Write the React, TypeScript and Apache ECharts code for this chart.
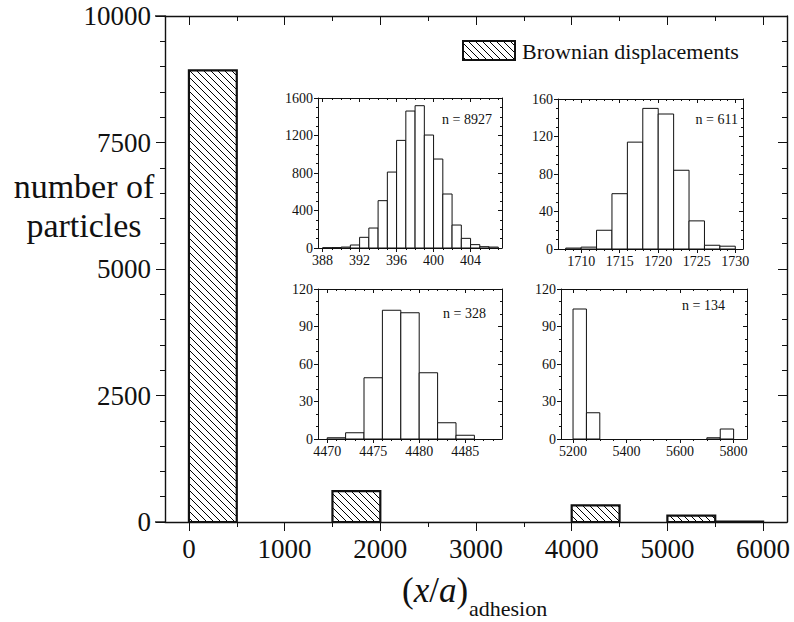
import React, { useEffect, useRef } from "react";
import * as echarts from "echarts";

// ---------- data ----------
const mainBinStarts = [0, 1500, 4000, 5000, 5500];
const mainBinEnds = [500, 2000, 4500, 5500, 6000];
const mainCounts = [8927, 611, 328, 125, 9];
const mainXTicks = [0, 1000, 2000, 3000, 4000, 5000, 6000];
const mainYTicks = [0, 2500, 5000, 7500, 10000];

const inset1Bins = [388, 389, 390, 391, 392, 393, 394, 395, 396, 397, 398, 399, 400, 401, 402, 403, 404, 405, 406];
const inset1Counts = [3, 4, 10, 32, 114, 213, 505, 810, 1148, 1461, 1518, 1205, 949, 576, 245, 103, 36, 14, 10];
const inset1Width = 1;
const inset1XTicks = [388, 392, 396, 400, 404];
const inset1YTicks = [0, 400, 800, 1200, 1600];
const inset1Label = "n = 8927";

const inset2Bins = [1708, 1710, 1712, 1714, 1716, 1718, 1720, 1722, 1724, 1726, 1728];
const inset2Counts = [1, 2, 20, 59, 114, 150, 144, 84, 30, 4, 3];
const inset2Width = 2;
const inset2XTicks = [1710, 1715, 1720, 1725, 1730];
const inset2YTicks = [0, 40, 80, 120, 160];
const inset2Label = "n = 611";

const inset3Bins = [4470, 4472, 4474, 4476, 4478, 4480, 4482, 4484];
const inset3Counts = [1, 5, 49, 103, 101, 53, 13, 3];
const inset3Width = 2;
const inset3XTicks = [4470, 4475, 4480, 4485];
const inset3YTicks = [0, 30, 60, 90, 120];
const inset3Label = "n = 328";

const inset4Bins = [5200, 5250, 5700, 5750];
const inset4Counts = [104, 21, 1, 8];
const inset4Width = 50;
const inset4XTicks = [5200, 5400, 5600, 5800];
const inset4YTicks = [0, 30, 60, 90, 120];
const inset4Label = "n = 134";

const FONT = "Liberation Serif";
const INK = "#111";

function steps(a: number, b: number, s: number): number[] {
  const out: number[] = [];
  for (let v = a; v <= b + 1e-9; v += s) out.push(Math.round(v * 1000) / 1000);
  return out;
}

function makeHatch(): string {
  const s = 7;
  const c = document.createElement("canvas");
  c.width = s;
  c.height = s;
  const ctx = c.getContext("2d")!;
  ctx.fillStyle = "#fff";
  ctx.fillRect(0, 0, s, s);
  ctx.strokeStyle = "#000";
  ctx.lineWidth = 1;
  ctx.beginPath();
  ctx.moveTo(-1, -1);
  ctx.lineTo(s + 1, s + 1);
  ctx.moveTo(-1, s - 1);
  ctx.lineTo(1, s + 1);
  ctx.moveTo(s - 1, -1);
  ctx.lineTo(s + 1, 1);
  ctx.stroke();
  return c.toDataURL();
}

type Frame = {
  rect: { left: number; top: number; width: number; height: number };
  xMin: number; xMax: number; yMin: number; yMax: number;
  xMajor: number[]; xMinor: number[]; yMajor: number[]; yMinor: number[];
  fontSize: number; xMargin: number; yMargin: number;
  majorLen: number; minorLen: number; lineWidth: number;
};

const plain = (v: number) => String(v);

function buildFrame(f: Frame, grids: any[], xAxes: any[], yAxes: any[]) {
  const g = grids.length;
  grids.push({ ...f.rect, containLabel: false });
  grids.push({ ...f.rect, containLabel: false });
  const line = { color: INK, width: f.lineWidth };
  const tickLine = { color: INK, width: 1 };
  const xb = { type: "value", min: f.xMin, max: f.xMax, splitLine: { show: false } };
  const yb = { type: "value", min: f.yMin, max: f.yMax, splitLine: { show: false } };
  const lbl = { color: INK, fontFamily: FONT, fontSize: f.fontSize, formatter: plain };
  const xIdx = xAxes.length;
  const yIdx = yAxes.length;
  xAxes.push({
    ...xb, gridIndex: g, position: "bottom",
    axisLine: { show: true, onZero: false, lineStyle: line },
    axisTick: { show: true, inside: false, length: f.majorLen, customValues: f.xMajor, lineStyle: tickLine },
    axisLabel: { show: true, customValues: f.xMajor, margin: f.xMargin, ...lbl },
  });
  xAxes.push({
    ...xb, gridIndex: g, position: "top",
    axisLine: { show: true, onZero: false, lineStyle: line },
    axisTick: { show: true, inside: true, length: f.majorLen, customValues: f.xMajor, lineStyle: tickLine },
    axisLabel: { show: false },
  });
  yAxes.push({
    ...yb, gridIndex: g, position: "left",
    axisLine: { show: true, onZero: false, lineStyle: line },
    axisTick: { show: true, inside: false, length: f.majorLen, customValues: f.yMajor, lineStyle: tickLine },
    axisLabel: { show: true, customValues: f.yMajor, margin: f.yMargin, ...lbl },
  });
  yAxes.push({
    ...yb, gridIndex: g, position: "right",
    axisLine: { show: true, onZero: false, lineStyle: line },
    axisTick: { show: true, inside: true, length: f.majorLen, customValues: f.yMajor, lineStyle: tickLine },
    axisLabel: { show: false },
  });
  // minor ticks on an overlay grid
  const minorX = (pos: string, inside: boolean) => ({
    ...xb, gridIndex: g + 1, position: pos,
    axisLine: { show: false, onZero: false },
    axisTick: { show: true, inside, length: f.minorLen, customValues: f.xMinor, lineStyle: tickLine },
    axisLabel: { show: false },
  });
  const minorY = (pos: string, inside: boolean) => ({
    ...yb, gridIndex: g + 1, position: pos,
    axisLine: { show: false, onZero: false },
    axisTick: { show: true, inside, length: f.minorLen, customValues: f.yMinor, lineStyle: tickLine },
    axisLabel: { show: false },
  });
  xAxes.push(minorX("bottom", false));
  xAxes.push(minorX("top", true));
  yAxes.push(minorY("left", false));
  yAxes.push(minorY("right", true));
  return { xIdx, yIdx };
}

function barSeries(data: number[][], xIdx: number, yIdx: number, style: any) {
  return {
    type: "custom",
    xAxisIndex: xIdx,
    yAxisIndex: yIdx,
    data,
    encode: { x: [0, 1], y: 2 },
    renderItem: (_p: any, api: any) => {
      const x0 = api.value(0);
      const x1 = api.value(1);
      const v = api.value(2);
      const a = api.coord([x0, v]);
      const b = api.coord([x1, 0]);
      return {
        type: "rect",
        shape: { x: a[0], y: a[1], width: b[0] - a[0], height: b[1] - a[1] },
        style,
      };
    },
  };
}

function binData(starts: number[], width: number, counts: number[]) {
  return starts.map((s, i) => [s, s + width, counts[i]]);
}

export default function App() {
  const ref = useRef<HTMLDivElement>(null);
  useEffect(() => {
    const el = ref.current!;
    const chart = echarts.init(el, null, { renderer: "svg" });
    const hatch = { image: makeHatch(), repeat: "repeat", imageWidth: 7, imageHeight: 7 };

    const grids: any[] = [];
    const xAxes: any[] = [];
    const yAxes: any[] = [];
    const series: any[] = [];

    const main = buildFrame({
      rect: { left: 165, top: 16, width: 622, height: 506 },
      xMin: -250, xMax: 6250, yMin: 0, yMax: 10000,
      xMajor: mainXTicks, xMinor: steps(500, 5500, 1000),
      yMajor: mainYTicks, yMinor: steps(500, 9500, 500),
      fontSize: 27, xMargin: 13, yMargin: 14,
      majorLen: 9, minorLen: 5, lineWidth: 1.4,
    }, grids, xAxes, yAxes);
    series.push(barSeries(
      mainBinStarts.map((s, i) => [s, mainBinEnds[i], mainCounts[i]]),
      main.xIdx, main.yIdx,
      { fill: hatch, stroke: INK, lineWidth: 2.2 },
    ));

    const insets = [
      { rect: { left: 318, top: 98, width: 184, height: 150 }, xMin: 387.5, xMax: 407.4, bins: inset1Bins, counts: inset1Counts, w: inset1Width, xt: inset1XTicks, yt: inset1YTicks, xm: steps(388, 407, 1), ym: steps(0, 1600, 100) },
      { rect: { left: 558, top: 99, width: 185, height: 150 }, xMin: 1707, xMax: 1731, bins: inset2Bins, counts: inset2Counts, w: inset2Width, xt: inset2XTicks, yt: inset2YTicks, xm: steps(1708, 1730, 1), ym: steps(0, 160, 10) },
      { rect: { left: 318, top: 289, width: 184, height: 150 }, xMin: 4469, xMax: 4489, bins: inset3Bins, counts: inset3Counts, w: inset3Width, xt: inset3XTicks, yt: inset3YTicks, xm: steps(4470, 4488, 1), ym: steps(0, 120, 10) },
      { rect: { left: 561, top: 289, width: 186, height: 150 }, xMin: 5155, xMax: 5850, bins: inset4Bins, counts: inset4Counts, w: inset4Width, xt: inset4XTicks, yt: inset4YTicks, xm: steps(5200, 5800, 50), ym: steps(0, 120, 10) },
    ];
    insets.forEach((ins) => {
      const yMax = ins.yt[ins.yt.length - 1];
      const fr = buildFrame({
        rect: ins.rect, xMin: ins.xMin, xMax: ins.xMax, yMin: 0, yMax,
        xMajor: ins.xt, xMinor: ins.xm, yMajor: ins.yt, yMinor: ins.ym,
        fontSize: 14, xMargin: 5, yMargin: 5, majorLen: 4, minorLen: 2, lineWidth: 1,
      }, grids, xAxes, yAxes);
      series.push(barSeries(binData(ins.bins, ins.w, ins.counts), fr.xIdx, fr.yIdx,
        { fill: "#fff", stroke: INK, lineWidth: 1 }));
    });

    const txt = (text: string, x: number, y: number, size: number, align = "left", extra: any = {}) => ({
      type: "text", x, y, z: 100,
      style: { text, fill: INK, fontFamily: FONT, fontSize: size, align, verticalAlign: "middle", ...extra },
    });

    const graphic: any[] = [
      // legend
      { type: "rect", shape: { x: 463, y: 41, width: 52, height: 19 }, style: { fill: hatch, stroke: INK, lineWidth: 2 }, z: 100 },
      txt("Brownian displacements", 522, 51, 22),
      // y title
      txt("number of", 84, 186, 34, "center"),
      txt("particles", 84, 225, 34, "center"),
      // x title
      {
        type: "text", x: 402, y: 590, z: 100,
        style: {
          text: "{p|(}{i|x}{p|/}{i|a}{p|)}",
          fill: INK, verticalAlign: "middle", fontFamily: FONT, fontSize: 35,
          rich: {
            p: { fontFamily: FONT, fontSize: 35, fill: INK },
            i: { fontFamily: FONT, fontSize: 35, fontStyle: "italic", fill: INK },
          },
        },
      },
      txt("adhesion", 469, 608, 22),
      // inset annotations
      txt(inset1Label, 492, 119, 14, "right"),
      txt(inset2Label, 738, 119, 14, "right"),
      txt(inset3Label, 486, 313, 14, "right"),
      txt(inset4Label, 725, 305, 14, "right"),
      // axis line overhang on the left
      { type: "line", shape: { x1: 155, y1: 522, x2: 165, y2: 522 }, style: { stroke: INK, lineWidth: 1.4 }, z: 100 },
      { type: "line", shape: { x1: 155, y1: 16, x2: 165, y2: 16 }, style: { stroke: INK, lineWidth: 1.4 }, z: 100 },
    ];

    chart.setOption({
      animation: false,
      backgroundColor: "#fff",
      textStyle: { fontFamily: FONT, color: INK },
      grid: grids,
      xAxis: xAxes,
      yAxis: yAxes,
      series,
      graphic,
    });
    return () => chart.dispose();
  }, []);
  return (
    <div
      ref={ref}
      style={{ position: "fixed", left: 0, top: 0, width: 794, height: 622, background: "#fff" }}
    />
  );
}
